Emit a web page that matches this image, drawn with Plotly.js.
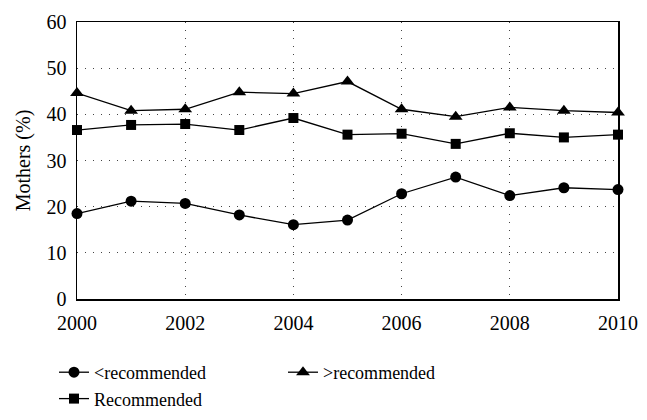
<!DOCTYPE html>
<html>
<head>
<meta charset="utf-8">
<script src="https://cdn.plot.ly/plotly-3.0.1.min.js"></script>
<style>html,body{margin:0;padding:0;background:#fff;}#chart{width:647px;height:420px;}</style>
</head>
<body>
<div id="chart"></div>
<script>
const years = [2000, 2001, 2002, 2003, 2004, 2005, 2006, 2007, 2008, 2009, 2010];
const belowRecommended = [18.5, 21.2, 20.7, 18.2, 16.1, 17.1, 22.8, 26.4, 22.4, 24.1, 23.7];
const aboveRecommended = [44.6, 40.8, 41.1, 44.8, 44.5, 47.1, 41.1, 39.5, 41.5, 40.8, 40.4];
const recommended = [36.6, 37.7, 37.9, 36.6, 39.2, 35.6, 35.8, 33.6, 35.9, 35.0, 35.6];
const seriesNames = ['<recommended', '>recommended', 'Recommended'];
const xTicks = [2000, 2002, 2004, 2006, 2008, 2010];
const yTicks = [0, 10, 20, 30, 40, 50, 60];

const font = "'Liberation Serif', 'Times New Roman', serif";
function tr(y, name, symbol, size) {
  return {
    x: years, y: y, name: name, type: 'scatter', mode: 'lines+markers',
    line: {color: '#000', width: 1.3},
    marker: {symbol: symbol, size: size, color: '#000'},
    cliponaxis: false
  };
}
const data = [
  tr(belowRecommended, seriesNames[0], 'circle', 11),
  tr(aboveRecommended, seriesNames[1], 'triangle-up', 12),
  tr(recommended, seriesNames[2], 'square', 10)
];
const gridDash = '1px,7px';
const layout = {
  width: 647, height: 420,
  margin: {l: 77, r: 29, t: 22, b: 121},
  paper_bgcolor: '#fff', plot_bgcolor: '#fff',
  font: {family: font, size: 18, color: '#000'},
  showlegend: true,
  legend: {
    orientation: 'h', x: 54 / 647, xref: 'container', xanchor: 'left',
    y: 1 - 354 / 420, yref: 'container', yanchor: 'top',
    entrywidth: 184, font: {family: font, size: 18, color: '#000'},
    traceorder: 'normal', bgcolor: 'rgba(0,0,0,0)'
  },
  xaxis: {
    range: [2000, 2010], tickvals: xTicks, ticktext: xTicks.map(String),
    showline: true, linecolor: '#000', linewidth: 1.5, mirror: true,
    showgrid: true, gridcolor: '#444', griddash: gridDash, gridwidth: 1,
    zeroline: false, ticks: 'outside', ticklen: 5, tickcolor: 'rgba(0,0,0,0)',
    tickfont: {family: font, size: 20}
  },
  yaxis: {
    range: [0, 60], tickvals: yTicks, ticktext: yTicks.map(String),
    showline: true, linecolor: '#000', linewidth: 1.5, mirror: true,
    showgrid: true, gridcolor: '#444', griddash: gridDash, gridwidth: 1,
    zeroline: false, ticks: 'outside', ticklen: 5, tickcolor: 'rgba(0,0,0,0)',
    tickfont: {family: font, size: 20},
    title: {text: 'Mothers (%)', font: {family: font, size: 20}, standoff: 10}
  }
};
Plotly.newPlot('chart', data, layout, {displayModeBar: false, staticPlot: true});
</script>
</body>
</html>
